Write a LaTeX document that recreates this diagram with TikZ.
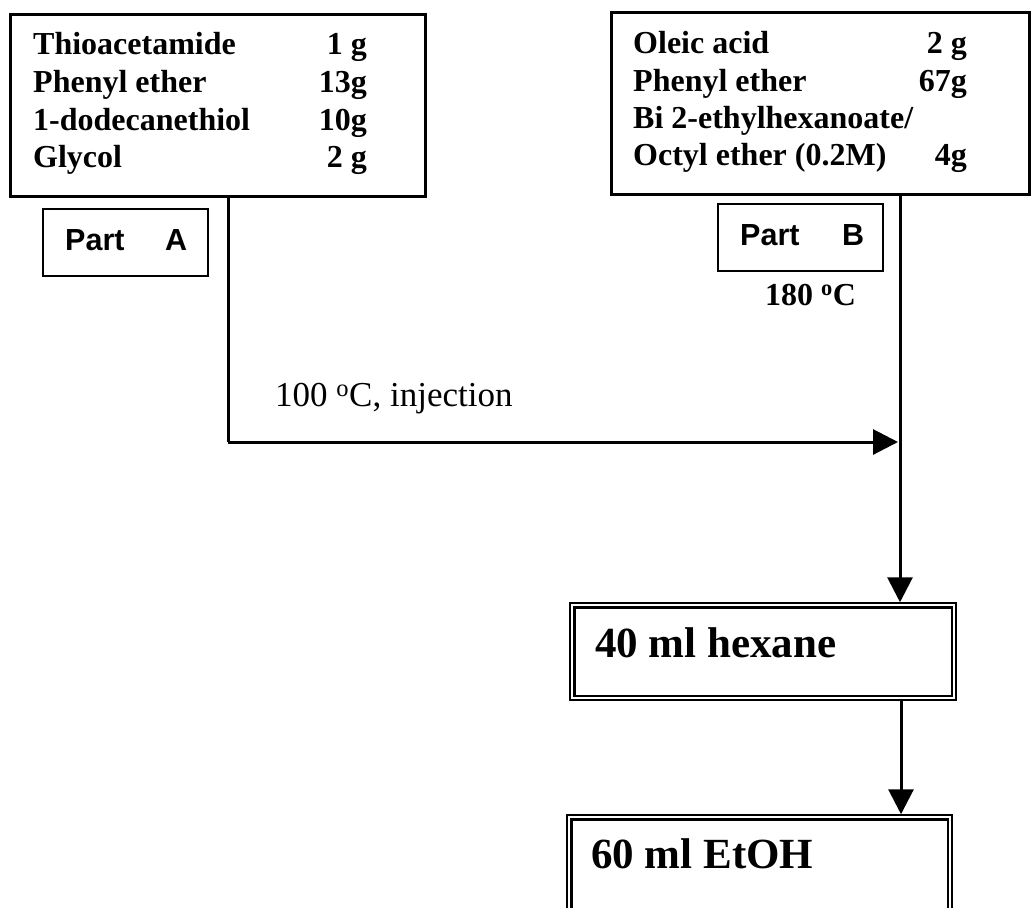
\documentclass[tikz,border=0pt]{standalone}
\usepackage{fontspec}
\setmainfont{Liberation Serif}
\setsansfont{Liberation Sans}
\usetikzlibrary{arrows.meta}
\begin{document}
\begin{tikzpicture}[x=1pt,y=-1pt,
  bigbox/.style={draw, line width=3pt, inner sep=0pt},
  partbox/.style={draw, line width=1.5pt, inner sep=0pt, minimum width=165pt, minimum height=67pt},
  lst/.style={anchor=base west, inner sep=0pt, font=\fontsize{32}{38}\selectfont\bfseries},
  amt/.style={anchor=base east, inner sep=0pt, font=\fontsize{32}{38}\selectfont\bfseries},
  parttxt/.style={anchor=base west, inner sep=0pt, font=\fontsize{30.5}{36}\selectfont\sffamily\bfseries},
  dbox/.style={draw, line width=1.5pt, inner sep=0pt},
  innerline/.style={line width=2.5pt},
  big/.style={anchor=base west, inner sep=0pt, font=\fontsize{43}{50}\selectfont\bfseries},
  lbl/.style={anchor=base west, inner sep=0pt, font=\fontsize{35}{40}\selectfont},
  conn/.style={line width=3pt},
  arr/.style={line width=3pt, -{Triangle[length=25pt,width=25pt]}},
]
\clip (0,0) rectangle (1032,907);
\fill[white] (0,0) rectangle (1032,907);

% top boxes
\node[bigbox, minimum width=415pt, minimum height=181pt] (boxA) at (217.5,105.5) {};
\node[bigbox, minimum width=418pt, minimum height=181pt] (boxB) at (820,103.5) {};

% box A text
\node[lst] (a1) at (33,55) {Thioacetamide};
\node[lst] (a2) at (33,92) {Phenyl ether};
\node[lst] (a3) at (33,130) {1-dodecanethiol};
\node[lst] (a4) at (33,167) {Glycol};
\node[amt] (n1) at (367,55) {1 g};
\node[amt] (n2) at (367,92) {13g};
\node[amt] (n3) at (367,130) {10g};
\node[amt] (n4) at (367,167) {2 g};

% box B text
\node[lst] (b1) at (633,54) {Oleic acid};
\node[lst] (b2) at (633,91) {Phenyl ether};
\node[lst] (b3) at (633,128) {Bi 2-ethylhexanoate/};
\node[lst] (b4) at (633,165) {Octyl ether (0.2M)};
\node[amt] (m1) at (967,54) {2 g};
\node[amt] (m2) at (967,91) {67g};
\node[amt] (m4) at (967,165) {4g};

% part labels
\node[partbox] (partA) at (125.5,242.5) {};
\node[parttxt] (pA1) at (65,250) {Part};
\node[parttxt] (pA2) at (165,250) {A};
\node[partbox] (partB) at (800.5,237.5) {};
\node[parttxt] (pB1) at (740,245) {Part};
\node[parttxt] (pB2) at (842,245) {B};
\node[lst] (tB) at (765,305) {180 \textsuperscript{o}C};

% injection label
\node[lbl] (inj) at (275,406) {100 \textsuperscript{o}C, injection};

% lower boxes
\node[dbox, minimum width=386pt, minimum height=97pt] (hex) at (763,651.5) {};
\draw[innerline] ([shift={(5,5)}]hex.north west) rectangle ([shift={(-5,-5)}]hex.south east);
\node[big] (hext) at (595,657) {40 ml hexane};

\node[dbox, minimum width=385pt, minimum height=125pt] (etoh) at (759.5,877.5) {};
\draw[innerline] ([shift={(5,5)}]etoh.north west) rectangle ([shift={(-5,-5)}]etoh.south east);
\node[big] (etoht) at (591,868) {60 ml EtOH};

% connectors
\coordinate (xl) at (228,0);
\coordinate (xr) at (900,0);
\coordinate (jA) at (228,442);
\coordinate (jB) at (898,442);
\draw[conn] (boxA.south -| xl) -- (jA);
\draw[arr] (jA) -- (jB);
\draw[arr] (boxB.south -| xr) -- (hex.north -| xr);
\coordinate (xh) at (901,0);
\draw[arr] (hex.south -| xh) -- (etoh.north -| xh);
\end{tikzpicture}
\end{document}
